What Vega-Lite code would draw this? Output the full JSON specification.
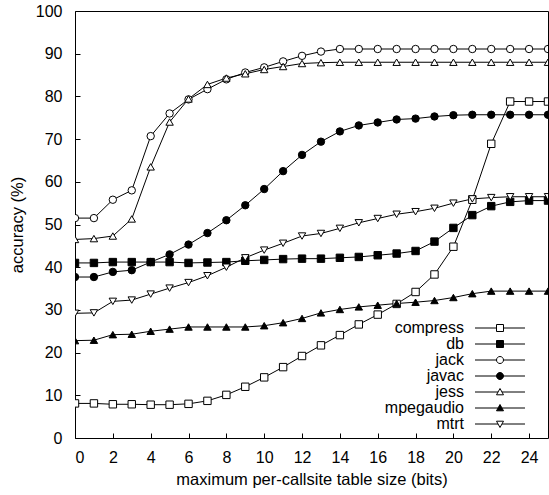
{
  "$schema": "https://vega.github.io/schema/vega-lite/v6.json",
  "width": 473,
  "height": 427,
  "autosize": "none",
  "padding": {"left": 75, "top": 11, "right": 1, "bottom": 57},
  "background": "white",
  "config": {
    "font": "Liberation Sans",
    "view": {"stroke": "black", "strokeWidth": 1},
    "axis": {
      "grid": false,
      "domain": false,
      "offset": -5,
      "tickColor": "black",
      "tickSize": 5,
      "labelColor": "black",
      "titleColor": "black",
      "labelFontSize": 16,
      "titleFontSize": 16.5,
      "titleFontWeight": "normal",
      "labelFont": "Liberation Sans",
      "titleFont": "Liberation Sans"
    }
  },
  "datasets": {
    "pts": [
      {"s":"compress","x":0,"y":8.1},{"s":"compress","x":1,"y":8.1},{"s":"compress","x":2,"y":7.9},{"s":"compress","x":3,"y":7.9},{"s":"compress","x":4,"y":7.8},{"s":"compress","x":5,"y":7.8},{"s":"compress","x":6,"y":8.0},{"s":"compress","x":7,"y":8.7},{"s":"compress","x":8,"y":10.1},{"s":"compress","x":9,"y":12.0},{"s":"compress","x":10,"y":14.2},{"s":"compress","x":11,"y":16.6},{"s":"compress","x":12,"y":19.2},{"s":"compress","x":13,"y":21.7},{"s":"compress","x":14,"y":24.1},{"s":"compress","x":15,"y":26.6},{"s":"compress","x":16,"y":28.9},{"s":"compress","x":17,"y":31.4},{"s":"compress","x":18,"y":34.2},{"s":"compress","x":19,"y":38.3},{"s":"compress","x":20,"y":44.8},{"s":"compress","x":21,"y":55.8},{"s":"compress","x":22,"y":68.9},{"s":"compress","x":23,"y":78.8},{"s":"compress","x":24,"y":78.8},{"s":"compress","x":25,"y":78.8},
      {"s":"db","x":0,"y":41.0},{"s":"db","x":1,"y":41.0},{"s":"db","x":2,"y":41.2},{"s":"db","x":3,"y":41.2},{"s":"db","x":4,"y":41.2},{"s":"db","x":5,"y":41.2},{"s":"db","x":6,"y":41.0},{"s":"db","x":7,"y":41.1},{"s":"db","x":8,"y":41.2},{"s":"db","x":9,"y":41.5},{"s":"db","x":10,"y":41.7},{"s":"db","x":11,"y":41.9},{"s":"db","x":12,"y":42.0},{"s":"db","x":13,"y":42.0},{"s":"db","x":14,"y":42.2},{"s":"db","x":15,"y":42.4},{"s":"db","x":16,"y":42.8},{"s":"db","x":17,"y":43.2},{"s":"db","x":18,"y":43.8},{"s":"db","x":19,"y":46.0},{"s":"db","x":20,"y":49.2},{"s":"db","x":21,"y":52.2},{"s":"db","x":22,"y":54.3},{"s":"db","x":23,"y":55.3},{"s":"db","x":24,"y":55.6},{"s":"db","x":25,"y":55.6},
      {"s":"jack","x":0,"y":51.5},{"s":"jack","x":1,"y":51.5},{"s":"jack","x":2,"y":55.8},{"s":"jack","x":3,"y":58.0},{"s":"jack","x":4,"y":70.7},{"s":"jack","x":5,"y":76.0},{"s":"jack","x":6,"y":79.3},{"s":"jack","x":7,"y":81.7},{"s":"jack","x":8,"y":84.0},{"s":"jack","x":9,"y":85.6},{"s":"jack","x":10,"y":86.8},{"s":"jack","x":11,"y":88.2},{"s":"jack","x":12,"y":89.5},{"s":"jack","x":13,"y":90.5},{"s":"jack","x":14,"y":91.1},{"s":"jack","x":15,"y":91.1},{"s":"jack","x":16,"y":91.1},{"s":"jack","x":17,"y":91.1},{"s":"jack","x":18,"y":91.1},{"s":"jack","x":19,"y":91.1},{"s":"jack","x":20,"y":91.1},{"s":"jack","x":21,"y":91.1},{"s":"jack","x":22,"y":91.1},{"s":"jack","x":23,"y":91.1},{"s":"jack","x":24,"y":91.1},{"s":"jack","x":25,"y":91.1},
      {"s":"javac","x":0,"y":37.7},{"s":"javac","x":1,"y":37.7},{"s":"javac","x":2,"y":38.9},{"s":"javac","x":3,"y":39.3},{"s":"javac","x":4,"y":41.2},{"s":"javac","x":5,"y":43.0},{"s":"javac","x":6,"y":45.3},{"s":"javac","x":7,"y":48.0},{"s":"javac","x":8,"y":51.0},{"s":"javac","x":9,"y":54.5},{"s":"javac","x":10,"y":58.3},{"s":"javac","x":11,"y":62.5},{"s":"javac","x":12,"y":66.3},{"s":"javac","x":13,"y":69.4},{"s":"javac","x":14,"y":71.8},{"s":"javac","x":15,"y":73.2},{"s":"javac","x":16,"y":73.9},{"s":"javac","x":17,"y":74.6},{"s":"javac","x":18,"y":74.8},{"s":"javac","x":19,"y":75.3},{"s":"javac","x":20,"y":75.6},{"s":"javac","x":21,"y":75.7},{"s":"javac","x":22,"y":75.7},{"s":"javac","x":23,"y":75.7},{"s":"javac","x":24,"y":75.7},{"s":"javac","x":25,"y":75.7},
      {"s":"jess","x":0,"y":46.5},{"s":"jess","x":1,"y":46.7},{"s":"jess","x":2,"y":47.3},{"s":"jess","x":3,"y":51.3},{"s":"jess","x":4,"y":63.5},{"s":"jess","x":5,"y":74.0},{"s":"jess","x":6,"y":79.4},{"s":"jess","x":7,"y":82.8},{"s":"jess","x":8,"y":84.3},{"s":"jess","x":9,"y":85.3},{"s":"jess","x":10,"y":86.3},{"s":"jess","x":11,"y":87.0},{"s":"jess","x":12,"y":87.7},{"s":"jess","x":13,"y":87.9},{"s":"jess","x":14,"y":88.0},{"s":"jess","x":15,"y":88.0},{"s":"jess","x":16,"y":88.0},{"s":"jess","x":17,"y":88.0},{"s":"jess","x":18,"y":88.0},{"s":"jess","x":19,"y":88.0},{"s":"jess","x":20,"y":88.0},{"s":"jess","x":21,"y":88.0},{"s":"jess","x":22,"y":88.0},{"s":"jess","x":23,"y":88.0},{"s":"jess","x":24,"y":88.0},{"s":"jess","x":25,"y":88.0},
      {"s":"mpegaudio","x":0,"y":22.8},{"s":"mpegaudio","x":1,"y":22.9},{"s":"mpegaudio","x":2,"y":24.2},{"s":"mpegaudio","x":3,"y":24.3},{"s":"mpegaudio","x":4,"y":25.0},{"s":"mpegaudio","x":5,"y":25.5},{"s":"mpegaudio","x":6,"y":26.0},{"s":"mpegaudio","x":7,"y":26.0},{"s":"mpegaudio","x":8,"y":26.0},{"s":"mpegaudio","x":9,"y":26.0},{"s":"mpegaudio","x":10,"y":26.3},{"s":"mpegaudio","x":11,"y":27.0},{"s":"mpegaudio","x":12,"y":28.0},{"s":"mpegaudio","x":13,"y":29.3},{"s":"mpegaudio","x":14,"y":30.1},{"s":"mpegaudio","x":15,"y":30.7},{"s":"mpegaudio","x":16,"y":31.1},{"s":"mpegaudio","x":17,"y":31.5},{"s":"mpegaudio","x":18,"y":31.8},{"s":"mpegaudio","x":19,"y":32.2},{"s":"mpegaudio","x":20,"y":32.9},{"s":"mpegaudio","x":21,"y":33.8},{"s":"mpegaudio","x":22,"y":34.4},{"s":"mpegaudio","x":23,"y":34.4},{"s":"mpegaudio","x":24,"y":34.4},{"s":"mpegaudio","x":25,"y":34.4},
      {"s":"mtrt","x":0,"y":29.2},{"s":"mtrt","x":1,"y":29.3},{"s":"mtrt","x":2,"y":32.0},{"s":"mtrt","x":3,"y":32.3},{"s":"mtrt","x":4,"y":33.7},{"s":"mtrt","x":5,"y":35.1},{"s":"mtrt","x":6,"y":36.4},{"s":"mtrt","x":7,"y":38.0},{"s":"mtrt","x":8,"y":40.0},{"s":"mtrt","x":9,"y":42.2},{"s":"mtrt","x":10,"y":44.0},{"s":"mtrt","x":11,"y":45.6},{"s":"mtrt","x":12,"y":47.3},{"s":"mtrt","x":13,"y":47.9},{"s":"mtrt","x":14,"y":49.1},{"s":"mtrt","x":15,"y":50.4},{"s":"mtrt","x":16,"y":51.4},{"s":"mtrt","x":17,"y":52.4},{"s":"mtrt","x":18,"y":53.0},{"s":"mtrt","x":19,"y":53.8},{"s":"mtrt","x":20,"y":55.0},{"s":"mtrt","x":21,"y":56.0},{"s":"mtrt","x":22,"y":56.3},{"s":"mtrt","x":23,"y":56.5},{"s":"mtrt","x":24,"y":56.5},{"s":"mtrt","x":25,"y":56.5}
    ]
  },
  "data": {"name": "pts"},
  "encoding": {
    "x": {
      "field": "x", "type": "quantitative",
      "scale": {"domain": [0, 25], "nice": false},
      "axis": {"values": [0,2,4,6,8,10,12,14,16,18,20,22,24], "title": "maximum per-callsite table size (bits)", "labelPadding": 11, "titlePadding": 6}
    },
    "y": {
      "field": "y", "type": "quantitative",
      "scale": {"domain": [0, 100], "nice": false},
      "axis": {"values": [0,10,20,30,40,50,60,70,80,90,100], "title": "accuracy (%)", "labelPadding": 13, "titlePadding": 10}
    }
  },
  "layer": [
    {
      "mark": {"type": "line", "color": "black", "strokeWidth": 1, "clip": true},
      "encoding": {"detail": {"field": "s", "type": "nominal"}}
    },
    {
      "mark": {"type": "point", "filled": false, "stroke": "black", "strokeWidth": 1, "size": 55, "opacity": 1, "clip": true},
      "encoding": {
        "shape": {
          "field": "s", "type": "nominal", "legend": null,
          "scale": {
            "domain": ["compress","db","jack","javac","jess","mpegaudio","mtrt"],
            "range": ["square","square","circle","circle","triangle-up","triangle-up","triangle-down"]
          }
        },
        "fill": {
          "field": "s", "type": "nominal", "legend": null,
          "scale": {
            "domain": ["compress","db","jack","javac","jess","mpegaudio","mtrt"],
            "range": ["white","black","white","black","white","black","white"]
          }
        }
      }
    },
    {
      "transform": [{"filter": "false"}],
      "mark": {"type": "point", "filled": false, "stroke": "black", "strokeWidth": 1, "size": 196, "opacity": 1},
      "encoding": {
        "shape": {
          "field": "s", "type": "nominal",
          "scale": {
            "domain": ["compress","db","jack","javac","jess","mpegaudio","mtrt"],
            "range": [
              "M-3.57,0H-0.5M0.5,0H3.57M-0.5,-0.5H0.5V0.5H-0.5Z",
              "M-3.57,0H-0.5M0.5,0H3.57M-0.5,-0.5H0.5V0.5H-0.5Z",
              "M-3.57,0H-0.5M0.5,0H3.57M0.5,0A0.5,0.5,0,1,1,-0.5,0A0.5,0.5,0,1,1,0.5,0Z",
              "M-3.57,0H-0.5M0.5,0H3.57M0.5,0A0.5,0.5,0,1,1,-0.5,0A0.5,0.5,0,1,1,0.5,0Z",
              "M-3.57,0H-0.28M0.28,0H3.57M0,-0.5L0.5,0.4L-0.5,0.4Z",
              "M-3.57,0H-0.28M0.28,0H3.57M0,-0.5L0.5,0.4L-0.5,0.4Z",
              "M-3.57,0H-0.28M0.28,0H3.57M0,0.5L0.5,-0.4L-0.5,-0.4Z"
            ]
          },
          "legend": {
            "title": null, "orient": "none", "legendX": 417, "legendY": 309, "padding": 0,
            "symbolSize": 196, "symbolStrokeColor": "black", "symbolStrokeWidth": 1,
            "labelAlign": "right", "labelOffset": -44, "labelFontSize": 16, "labelFont": "Liberation Sans", "labelColor": "black", "rowPadding": 0
          }
        },
        "fill": {
          "field": "s", "type": "nominal",
          "scale": {
            "domain": ["compress","db","jack","javac","jess","mpegaudio","mtrt"],
            "range": ["white","black","white","black","white","black","white"]
          },
          "legend": {
            "title": null, "orient": "none", "legendX": 417, "legendY": 309, "padding": 0,
            "symbolSize": 196, "symbolStrokeColor": "black", "symbolStrokeWidth": 1,
            "labelAlign": "right", "labelOffset": -44, "labelFontSize": 16, "labelFont": "Liberation Sans", "labelColor": "black", "rowPadding": 0
          }
        },
        "stroke": {
          "field": "s", "type": "nominal",
          "scale": {
            "domain": ["compress","db","jack","javac","jess","mpegaudio","mtrt"],
            "range": ["black","black","black","black","black","black","black"]
          },
          "legend": {
            "title": null, "orient": "none", "legendX": 417, "legendY": 309, "padding": 0,
            "symbolSize": 196, "symbolStrokeColor": "black", "symbolStrokeWidth": 1,
            "labelAlign": "right", "labelOffset": -44, "labelFontSize": 16, "labelFont": "Liberation Sans", "labelColor": "black", "rowPadding": 0
          }
        }
      }
    }
  ],
  "resolve": {"scale": {"shape": "independent", "fill": "independent", "stroke": "independent"}}
}
